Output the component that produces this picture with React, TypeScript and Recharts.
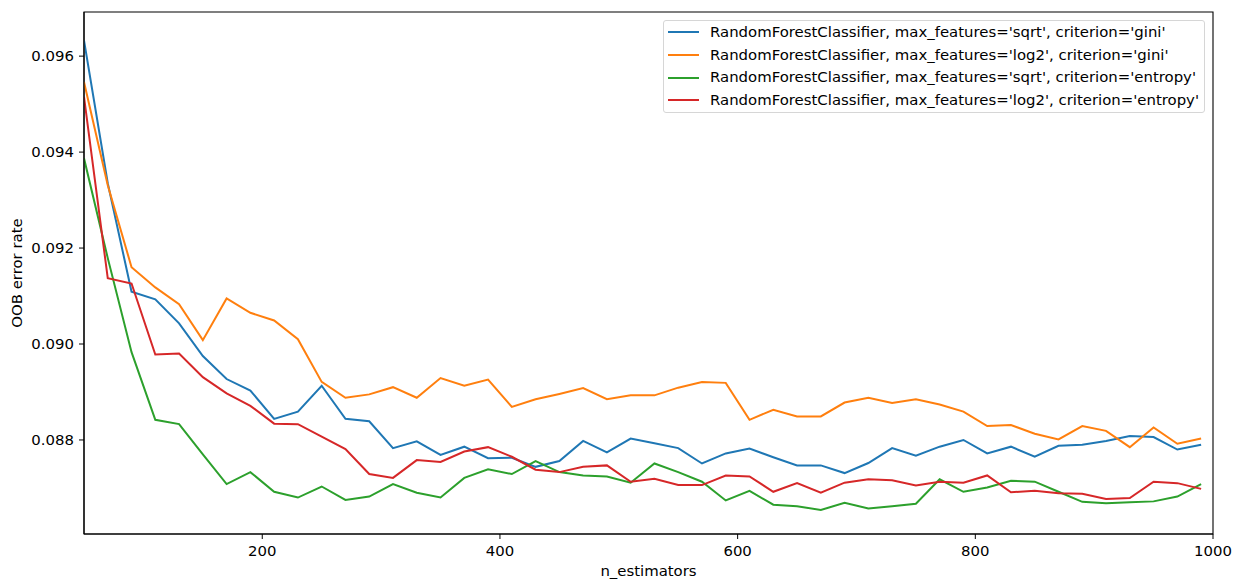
import React from 'react';
import { LineChart, Line, XAxis, YAxis, Legend, ReferenceArea } from 'recharts';

// Number of trees in each forest
const nEstimators = [
  50, 70, 90, 110, 130, 150, 170, 190, 210, 230, 250, 270, 290, 310, 330, 350,
  370, 390, 410, 430, 450, 470, 490, 510, 530, 550, 570, 590, 610, 630, 650, 670,
  690, 710, 730, 750, 770, 790, 810, 830, 850, 870, 890, 910, 930, 950, 970, 990,
];

// OOB error rate per configuration
const sqrtGini = [
  0.09633, 0.09335, 0.09109, 0.09093, 0.09043, 0.08975, 0.08927, 0.08903,
  0.08844, 0.08859, 0.08913, 0.08844, 0.08839, 0.08783, 0.08797, 0.08769,
  0.08786, 0.08762, 0.08763, 0.08744, 0.08756, 0.08798, 0.08774, 0.08803,
  0.08793, 0.08783, 0.08751, 0.08772, 0.08782, 0.08764, 0.08747, 0.08747,
  0.08731, 0.08752, 0.08783, 0.08767, 0.08786, 0.08800, 0.08772, 0.08786,
  0.08765, 0.08788, 0.08790, 0.08798, 0.08808, 0.08806, 0.08780, 0.08790,
];
const log2Gini = [
  0.09546, 0.09331, 0.09160, 0.09118, 0.09083, 0.09008, 0.09095, 0.09065,
  0.09049, 0.09010, 0.08921, 0.08888, 0.08895, 0.08910, 0.08888, 0.08929,
  0.08913, 0.08926, 0.08869, 0.08885, 0.08896, 0.08908, 0.08885, 0.08893,
  0.08893, 0.08909, 0.08921, 0.08919, 0.08842, 0.08863, 0.08849, 0.08849,
  0.08878, 0.08888, 0.08877, 0.08885, 0.08874, 0.08859, 0.08829, 0.08831,
  0.08813, 0.08801, 0.08829, 0.08819, 0.08785, 0.08826, 0.08792, 0.08803,
];
const sqrtEntropy = [
  0.09387, 0.09179, 0.08983, 0.08842, 0.08833, 0.08770, 0.08708, 0.08733,
  0.08692, 0.08680, 0.08703, 0.08675, 0.08682, 0.08708, 0.08690, 0.08680,
  0.08721, 0.08739, 0.08729, 0.08756, 0.08733, 0.08726, 0.08724, 0.08711,
  0.08751, 0.08733, 0.08713, 0.08674, 0.08694, 0.08665, 0.08662, 0.08654,
  0.08669, 0.08657, 0.08662, 0.08667, 0.08718, 0.08692, 0.08701, 0.08715,
  0.08713, 0.08692, 0.08671, 0.08668, 0.08670, 0.08672, 0.08682, 0.08708,
];
const log2Entropy = [
  0.09515, 0.09137, 0.09126, 0.08978, 0.08980, 0.08931, 0.08897, 0.08871,
  0.08834, 0.08833, 0.08807, 0.08781, 0.08729, 0.08721, 0.08758, 0.08754,
  0.08776, 0.08785, 0.08765, 0.08738, 0.08733, 0.08744, 0.08747, 0.08713,
  0.08719, 0.08706, 0.08706, 0.08726, 0.08724, 0.08692, 0.08710, 0.08690,
  0.08711, 0.08718, 0.08716, 0.08705, 0.08713, 0.08711, 0.08726, 0.08691,
  0.08694, 0.08689, 0.08688, 0.08677, 0.08679, 0.08713, 0.08710, 0.08698,
];

const seriesNames = [
  "RandomForestClassifier, max_features='sqrt', criterion='gini'",
  "RandomForestClassifier, max_features='log2', criterion='gini'",
  "RandomForestClassifier, max_features='sqrt', criterion='entropy'",
  "RandomForestClassifier, max_features='log2', criterion='entropy'",
];
const seriesColors = ['#1f77b4', '#ff7f0e', '#2ca02c', '#d62728'];
const seriesValues = [sqrtGini, log2Gini, sqrtEntropy, log2Entropy];

const xTicks = [200, 400, 600, 800, 1000];
const yTicks = [0.088, 0.09, 0.092, 0.094, 0.096];
const xDomain = [50, 1000];
const yDomain = [0.08604, 0.09692];

const data = nEstimators.map((n, i) => {
  const row: Record<string, number> = { n };
  seriesValues.forEach((vals, k) => {
    row[`s${k}`] = vals[i];
  });
  return row;
});

const FONT = 'DejaVu Sans, sans-serif';
const FS = 14.9;

// Legend keeps the plotting order of the series
const LegendBox = (props: any) => {
  const items = (props.payload || []).slice();
  items.sort(
    (a: any, b: any) => seriesNames.indexOf(a.value) - seriesNames.indexOf(b.value)
  );
  return (
    <div
      style={{
        boxSizing: 'border-box',
        width: 542,
        height: 93,
        border: '1px solid #d6d6d6',
        borderRadius: 3,
        background: 'rgba(255,255,255,0.8)',
        fontFamily: FONT,
        fontSize: FS,
        color: '#000',
      }}
    >
      {items.map((it: any) => (
        <div
          key={it.value}
          style={{ display: 'flex', alignItems: 'center', height: 22.7 }}
        >
          <div style={{ marginLeft: 4, width: 31, height: 2, background: it.color }} />
          <span style={{ marginLeft: 11, whiteSpace: 'nowrap', lineHeight: 1 }}>{it.value}</span>
        </div>
      ))}
    </div>
  );
};

const YTitle = (props: any) => {
  const vb = props.viewBox || { y: 12, height: 522 };
  const cy = vb.y + vb.height / 2;
  const cx = 16.5;
  return (
    <text
      x={cx}
      y={cy}
      transform={`rotate(-90, ${cx}, ${cy})`}
      textAnchor="middle"
      dominantBaseline="central"
      fontFamily={FONT}
      fontSize={FS}
      fill="#000"
    >
      OOB error rate
    </text>
  );
};

export default function App() {
  return (
    <div
      style={{
        position: 'absolute',
        left: 0,
        top: 0,
        width: 1241,
        height: 580,
        background: '#fff',
      }}
    >
      <LineChart
        width={1241}
        height={580}
        data={data}
        margin={{ top: 12, right: 28, left: 14, bottom: 0 }}
      >
        <XAxis
          dataKey="n"
          type="number"
          domain={xDomain}
          ticks={xTicks}
          allowDataOverflow
          height={46}
          tickSize={5}
          tickMargin={6}
          stroke="#000"
          tickLine={{ stroke: '#000' }}
          axisLine={{ stroke: '#000', strokeWidth: 1.1 }}
          tick={{ fill: '#000', fontSize: FS, fontFamily: FONT }}
          label={{
            value: 'n_estimators',
            position: 'insideBottom',
            offset: 4,
            fill: '#000',
            fontSize: FS,
            fontFamily: FONT,
          }}
        />
        <YAxis
          type="number"
          domain={yDomain}
          ticks={yTicks}
          allowDataOverflow
          width={70}
          tickSize={5}
          tickMargin={5}
          stroke="#000"
          tickLine={{ stroke: '#000' }}
          axisLine={{ stroke: '#000', strokeWidth: 1.1 }}
          tick={{ fill: '#000', fontSize: FS, fontFamily: FONT }}
          tickFormatter={(v: number) => v.toFixed(3)}
          label={<YTitle />}
        />
        {seriesValues.map((_, k) => (
          <Line
            key={k}
            type="linear"
            dataKey={`s${k}`}
            name={seriesNames[k]}
            stroke={seriesColors[k]}
            strokeWidth={2}
            dot={false}
            activeDot={false}
            isAnimationActive={false}
          />
        ))}
        <ReferenceArea
          x1={xDomain[0]}
          x2={xDomain[1]}
          y1={yDomain[0]}
          y2={yDomain[1]}
          fill="none"
          stroke="#000"
          strokeWidth={1.1}
          ifOverflow="visible"
        />
        <Legend
          layout="vertical"
          align="center"
          verticalAlign="middle"
          wrapperStyle={{ left: 663, top: 20, width: 542, height: 93 }}
          content={<LegendBox />}
        />
      </LineChart>
    </div>
  );
}
